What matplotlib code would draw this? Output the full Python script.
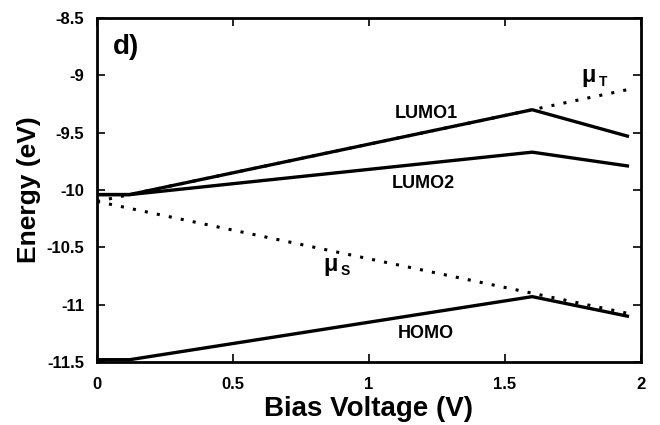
import matplotlib
matplotlib.use("Agg")
import matplotlib.pyplot as plt

plt.rcParams['font.family'] = ['Liberation Sans', 'DejaVu Sans']
plt.rcParams['font.weight'] = 'bold'

# level energies vs bias
v_lvl = [0.0, 0.12, 1.6, 1.95]
lumo1 = [-10.04, -10.04, -9.30, -9.53]
lumo2 = [-10.04, -10.04, -9.67, -9.79]
homo = [-11.48, -11.48, -10.93, -11.10]

# electrode chemical potentials
v_mu = [0.0, 1.95]
mu_t = [-10.10, -9.125]
mu_s = [-10.10, -11.075]

xticks = [0, 0.5, 1, 1.5, 2]
xticklabels = ['0', '0.5', '1', '1.5', '2']
yticks = [-8.5, -9, -9.5, -10, -10.5, -11, -11.5]
yticklabels = ['-8.5', '-9', '-9.5', '-10', '-10.5', '-11', '-11.5']

fig = plt.figure(figsize=(6.6, 4.25), dpi=100)
ax = fig.add_axes([97/660, 1 - 362/425, 544/660, 344/425])

dots = (0, (1, 3))
ax.plot(v_mu, mu_t, color='black', lw=2.2, linestyle=dots)
ax.plot(v_mu, mu_s, color='black', lw=2.2, linestyle=dots)
ax.plot(v_lvl, lumo1, color='black', lw=2.4)
ax.plot(v_lvl, lumo2, color='black', lw=2.4)
ax.plot(v_lvl, homo, color='black', lw=2.4)

ax.set_xlim(0, 2)
ax.set_ylim(-11.5, -8.5)
ax.set_xticks(xticks)
ax.set_xticklabels(xticklabels)
ax.set_yticks(yticks)
ax.set_yticklabels(yticklabels)
ax.tick_params(direction='in', top=True, right=True, length=6, width=1.2,
               labelsize=12)
ax.tick_params(axis='x', pad=11)
ax.tick_params(axis='y', pad=9)
for s in ax.spines.values():
    s.set_linewidth(2)

ax.set_xlabel('Bias Voltage (V)', fontsize=20, fontweight='bold', labelpad=3)
ax.set_ylabel('Energy (eV)', fontsize=19, fontweight='bold', labelpad=4)

ax.text(0.105, -8.75, 'd)', fontsize=20, fontweight='bold', ha='center', va='center')
ax.text(1.21, -9.33, 'LUMO1', fontsize=13, fontweight='bold', ha='center', va='center')
ax.text(1.20, -9.94, 'LUMO2', fontsize=13, fontweight='bold', ha='center', va='center')
ax.text(1.21, -11.25, 'HOMO', fontsize=13, fontweight='bold', ha='center', va='center')

# chemical potential labels: mu with a small lowered subscript
ax.text(1.835, -9.0, '\u03bc', fontsize=17, fontweight='bold', ha='right', va='center')
ax.text(1.845, -9.06, 'T', fontsize=10, fontweight='bold', ha='left', va='center')
ax.text(0.885, -10.65, '\u03bc', fontsize=17, fontweight='bold', ha='right', va='center')
ax.text(0.895, -10.71, 'S', fontsize=10, fontweight='bold', ha='left', va='center')

fig.savefig('out.png', dpi=100)
